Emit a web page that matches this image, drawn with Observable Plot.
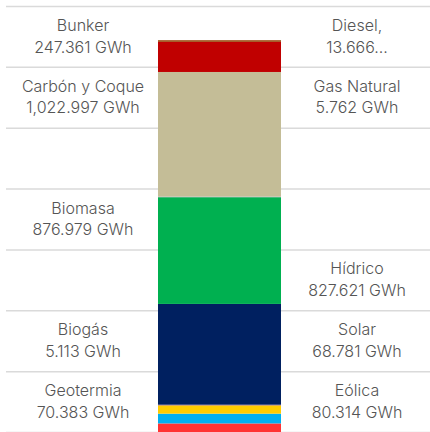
<!DOCTYPE html>
<html><head><meta charset="utf-8">
<script src="https://cdn.jsdelivr.net/npm/d3@7"></script>
<script src="https://cdn.jsdelivr.net/npm/@observablehq/plot@0.6"></script>
<style>body{margin:0;background:#fff;} svg{display:block;}</style>
</head><body><div id="chart"></div>
<script>
// Stack order, bottom to top
const fuentes = ["Geotermia","Eólica","Solar","Biogás","Hídrico","Biomasa","Gas Natural","Carbón y Coque","Bunker","Diesel"];
const gwh = [70.383, 80.314, 68.781, 5.113, 827.621, 876.979, 5.762, 1022.997, 247.361, 13.666];
const colores = ["#ff3333","#00b0f0","#ffcc00","#7030a0","#002060","#00b050","#a6a6a6","#c4bd97","#c00000","#9c4a10"];
const etiquetas = ["Geotermia\n70.383 GWh","Eólica\n80.314 GWh","Solar\n68.781 GWh","Biogás\n5.113 GWh","Hídrico\n827.621 GWh","Biomasa\n876.979 GWh","Gas Natural\n5.762 GWh","Carbón y Coque\n1,022.997 GWh","Bunker\n247.361 GWh","Diesel,\n13.666..."];
// Label rows (top to bottom) on each side of the bar
const filasIzq = ["Bunker","Carbón y Coque",null,"Biomasa",null,"Biogás","Geotermia"];
const filasDer = ["Diesel","Gas Natural",null,null,"Hídrico","Solar","Eólica"];
const yTicks = [0,500,1000,1500,2000,2500,3000,3500];

const datos = fuentes.map((f,i)=>({fuente:f, valor:gwh[i], orden:i}));
const paso = yTicks[1]-yTicks[0];
const maxY = yTicks[yTicks.length-1];
const etiq = [];
[["izq",filasIzq],["der",filasDer]].forEach(([lado, filas])=>{
  filas.forEach((f,k)=>{ if(f){ etiq.push({lado, y: maxY - paso*(k+0.5), texto: etiquetas[fuentes.indexOf(f)]}); } });
});

const chart = Plot.plot({
  width: 430, height: 432,
  marginTop: 6, marginBottom: 0, marginLeft: 6, marginRight: 0,
  x: {type:"band", domain:["izq","total","der"], range:[20,420], paddingInner:0.1014, paddingOuter:0, axis:null},
  y: {domain:[0,maxY], axis:null},
  color: {domain: fuentes, range: colores},
  marks: [
    Plot.ruleY(yTicks, {stroke:"#dadada", strokeWidth:1.5}),
    Plot.barY(datos, Plot.stackY({x: ()=>"total", y:"valor", fill:"fuente", order: "orden", inset:0})),
    Plot.text(etiq, {x:"lado", y:"y", text:"texto", fontSize:16, fontWeight:300, lineHeight:1.35, fill:"#555555", dy:-2, fontFamily:"Inter, sans-serif"})
  ]
});
chart.style.fontFamily = "Inter, sans-serif";
document.getElementById("chart").append(chart);
</script>
</body></html>
